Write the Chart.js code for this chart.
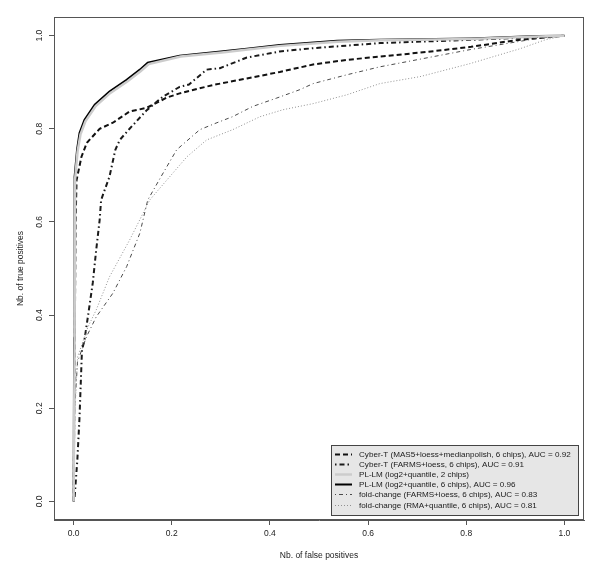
<!DOCTYPE html>
<html>
<head>
<meta charset="utf-8">
<script src="https://cdn.jsdelivr.net/npm/chart.js@4.4.1/dist/chart.umd.min.js"></script>
<style>
  body { margin: 0; background: #fff; }
  canvas { display: block; }
</style>
</head>
<body>
<canvas id="roc" width="600" height="573"></canvas>
<script>
// Tick positions shared by both axes
const axisTicks = [0, 0.2, 0.4, 0.6, 0.8, 1.0];

// Series labels, in legend order
const seriesLabels = [
  "Cyber-T (MAS5+loess+medianpolish, 6 chips), AUC = 0.92",
  "Cyber-T (FARMS+loess, 6 chips), AUC = 0.91",
  "PL-LM (log2+quantile, 2 chips)",
  "PL-LM (log2+quantile, 6 chips), AUC = 0.96",
  "fold-change (FARMS+loess, 6 chips), AUC = 0.83",
  "fold-change (RMA+quantile, 6 chips), AUC = 0.81"
];

// ROC curves (false positive rate / true positive rate)
const cyberMasFpr = [0, 0.002, 0.004, 0.006, 0.016, 0.027, 0.053, 0.08, 0.114, 0.149, 0.19, 0.216, 0.284, 0.353, 0.42, 0.488, 0.557, 0.624, 0.72, 0.81, 0.9, 1.0];
const cyberMasTpr = [0, 0.3, 0.6, 0.69, 0.74, 0.77, 0.80, 0.813, 0.837, 0.845, 0.867, 0.876, 0.894, 0.908, 0.922, 0.938, 0.948, 0.955, 0.965, 0.976, 0.99, 1.0];

const cyberFarmsFpr = [0, 0.002, 0.0075, 0.012, 0.017, 0.022, 0.029, 0.039, 0.046, 0.053, 0.056, 0.061, 0.073, 0.085, 0.094, 0.114, 0.149, 0.182, 0.216, 0.235, 0.271, 0.298, 0.353, 0.42, 0.488, 0.624, 0.81, 0.9, 1.0];
const cyberFarmsTpr = [0, 0.009, 0.088, 0.18, 0.325, 0.346, 0.396, 0.469, 0.54, 0.604, 0.647, 0.662, 0.697, 0.755, 0.776, 0.80, 0.84, 0.869, 0.89, 0.895, 0.927, 0.93, 0.953, 0.966, 0.973, 0.984, 0.991, 0.995, 1.0];

const plLm2Fpr = [0, 0.002, 0.003, 0.008, 0.014, 0.024, 0.045, 0.075, 0.110, 0.137, 0.153, 0.218, 0.302, 0.355, 0.422, 0.538, 0.626, 0.81, 0.945, 1.0];
const plLm2Tpr = [0, 0.34, 0.692, 0.751, 0.788, 0.816, 0.849, 0.877, 0.902, 0.924, 0.939, 0.955, 0.964, 0.970, 0.978, 0.987, 0.990, 0.993, 0.998, 1.0];

const plLm6Fpr = [0, 0.001, 0.002, 0.007, 0.012, 0.022, 0.043, 0.073, 0.108, 0.135, 0.151, 0.216, 0.3, 0.353, 0.42, 0.537, 0.624, 0.81, 0.945, 1.0];
const plLm6Tpr = [0, 0.35, 0.697, 0.755, 0.791, 0.819, 0.852, 0.880, 0.905, 0.927, 0.942, 0.957, 0.966, 0.972, 0.98, 0.989, 0.991, 0.994, 0.999, 1.0];

const foldFarmsFpr = [0, 0.002, 0.008, 0.026, 0.046, 0.08, 0.108, 0.135, 0.151, 0.178, 0.21, 0.257, 0.292, 0.324, 0.365, 0.414, 0.461, 0.488, 0.557, 0.624, 0.808, 0.945, 1.0];
const foldFarmsTpr = [0, 0.2, 0.3, 0.353, 0.396, 0.447, 0.504, 0.576, 0.647, 0.697, 0.755, 0.798, 0.813, 0.826, 0.848, 0.866, 0.884, 0.897, 0.916, 0.933, 0.97, 0.994, 1.0];

const foldRmaFpr = [0, 0.003, 0.008, 0.029, 0.046, 0.073, 0.114, 0.155, 0.19, 0.231, 0.271, 0.324, 0.38, 0.427, 0.488, 0.557, 0.624, 0.706, 0.808, 0.91, 0.961, 1.0];
const foldRmaTpr = [0, 0.2, 0.31, 0.374, 0.411, 0.482, 0.561, 0.647, 0.69, 0.74, 0.776, 0.798, 0.826, 0.841, 0.854, 0.873, 0.897, 0.912, 0.94, 0.972, 0.991, 1.0];

const toPoints = (xs, ys) => xs.map((x, i) => ({ x, y: ys[i] }));

const FONT = "'Liberation Sans', Arial, Helvetica, sans-serif";
const TEXT_SIZE = 8.5;
const LEGEND_SIZE = 8.1;

// Dataset order = draw order; legendIndex keeps the legend order from seriesLabels
const datasets = [
  { label: seriesLabels[2], data: toPoints(plLm2Fpr, plLm2Tpr), borderColor: "#cccccc", borderWidth: 2.5, borderDash: [], legendIndex: 2 },
  { label: seriesLabels[5], data: toPoints(foldRmaFpr, foldRmaTpr), borderColor: "#909090", borderWidth: 1, borderDash: [1, 2], legendIndex: 5 },
  { label: seriesLabels[4], data: toPoints(foldFarmsFpr, foldFarmsTpr), borderColor: "#4a4a4a", borderWidth: 1, borderDash: [1, 3, 4, 3], legendIndex: 4 },
  { label: seriesLabels[1], data: toPoints(cyberFarmsFpr, cyberFarmsTpr), borderColor: "#1a1a1a", borderWidth: 2, borderDash: [1.5, 3, 5, 3], legendIndex: 1 },
  { label: seriesLabels[0], data: toPoints(cyberMasFpr, cyberMasTpr), borderColor: "#111", borderWidth: 2, borderDash: [5, 3], legendIndex: 0 },
  { label: seriesLabels[3], data: toPoints(plLm6Fpr, plLm6Tpr), borderColor: "#000", borderWidth: 2, borderDash: [], legendIndex: 3 }
].map(d => ({ ...d, pointRadius: 0, tension: 0, fill: false }));

// Box round the plot region plus the R-style legend in the lower right corner
const frameAndLegend = {
  id: "frameAndLegend",
  afterDraw(chart) {
    const { ctx, chartArea: a } = chart;
    ctx.save();
    ctx.strokeStyle = "#555";
    ctx.lineWidth = 1;
    ctx.strokeRect(a.left + 0.5, a.top + 0.5, a.right - a.left - 1, a.bottom - a.top - 1);

    const box = { x: 331, y: 445, w: 247, h: 70 };
    ctx.fillStyle = "#e6e6e6";
    ctx.fillRect(box.x, box.y, box.w, box.h);
    ctx.strokeStyle = "#444";
    ctx.strokeRect(box.x + 0.5, box.y + 0.5, box.w, box.h);

    ctx.font = LEGEND_SIZE + "px " + FONT;
    ctx.textBaseline = "middle";
    ctx.fillStyle = "#1a1a1a";
    const sorted = [...chart.data.datasets].sort((p, q) => p.legendIndex - q.legendIndex);
    sorted.forEach((ds, i) => {
      const y = Math.round(box.y + 9 + i * 10.1) + 0.5;
      ctx.beginPath();
      ctx.strokeStyle = ds.borderColor;
      ctx.lineWidth = ds.borderWidth;
      ctx.setLineDash(ds.borderDash);
      ctx.moveTo(335, y);
      ctx.lineTo(352, y);
      ctx.stroke();
      ctx.setLineDash([]);
      ctx.fillText(ds.label, 359, y);
    });
    ctx.restore();
  }
};

new Chart(document.getElementById("roc"), {
  type: "line",
  data: { datasets },
  options: {
    responsive: false,
    animation: false,
    layout: { padding: { left: 0, right: 16, top: 17, bottom: 0 } },
    plugins: { legend: { display: false }, tooltip: { enabled: false } },
    scales: {
      x: {
        type: "linear",
        min: -0.04,
        max: 1.04,
        afterBuildTicks: s => { s.ticks = axisTicks.map(v => ({ value: v })); },
        afterFit: s => { s.height = 53; },
        grid: { drawOnChartArea: false, tickLength: 5, color: "#555" },
        border: { display: true, color: "#555" },
        ticks: { color: "#222", padding: 4, font: { family: FONT, size: TEXT_SIZE }, callback: v => v.toFixed(1), maxRotation: 0 },
        title: { display: true, text: "Nb. of false positives", color: "#222", font: { family: FONT, size: TEXT_SIZE }, padding: { top: 0, bottom: 12 } }
      },
      y: {
        type: "linear",
        min: -0.04,
        max: 1.04,
        afterBuildTicks: s => { s.ticks = axisTicks.map(v => ({ value: v })); },
        afterFit: s => { s.width = 54; },
        grid: { drawOnChartArea: false, tickLength: 5, color: "#555" },
        border: { display: true, color: "#555" },
        ticks: { color: "#222", padding: 3, crossAlign: "center", minRotation: 90, maxRotation: 90, font: { family: FONT, size: TEXT_SIZE }, callback: v => v.toFixed(1) },
        title: { display: true, text: "Nb. of true positives", color: "#222", font: { family: FONT, size: TEXT_SIZE }, padding: { top: 16, bottom: 0 } }
      }
    }
  },
  plugins: [frameAndLegend]
});
</script>
</body>
</html>
